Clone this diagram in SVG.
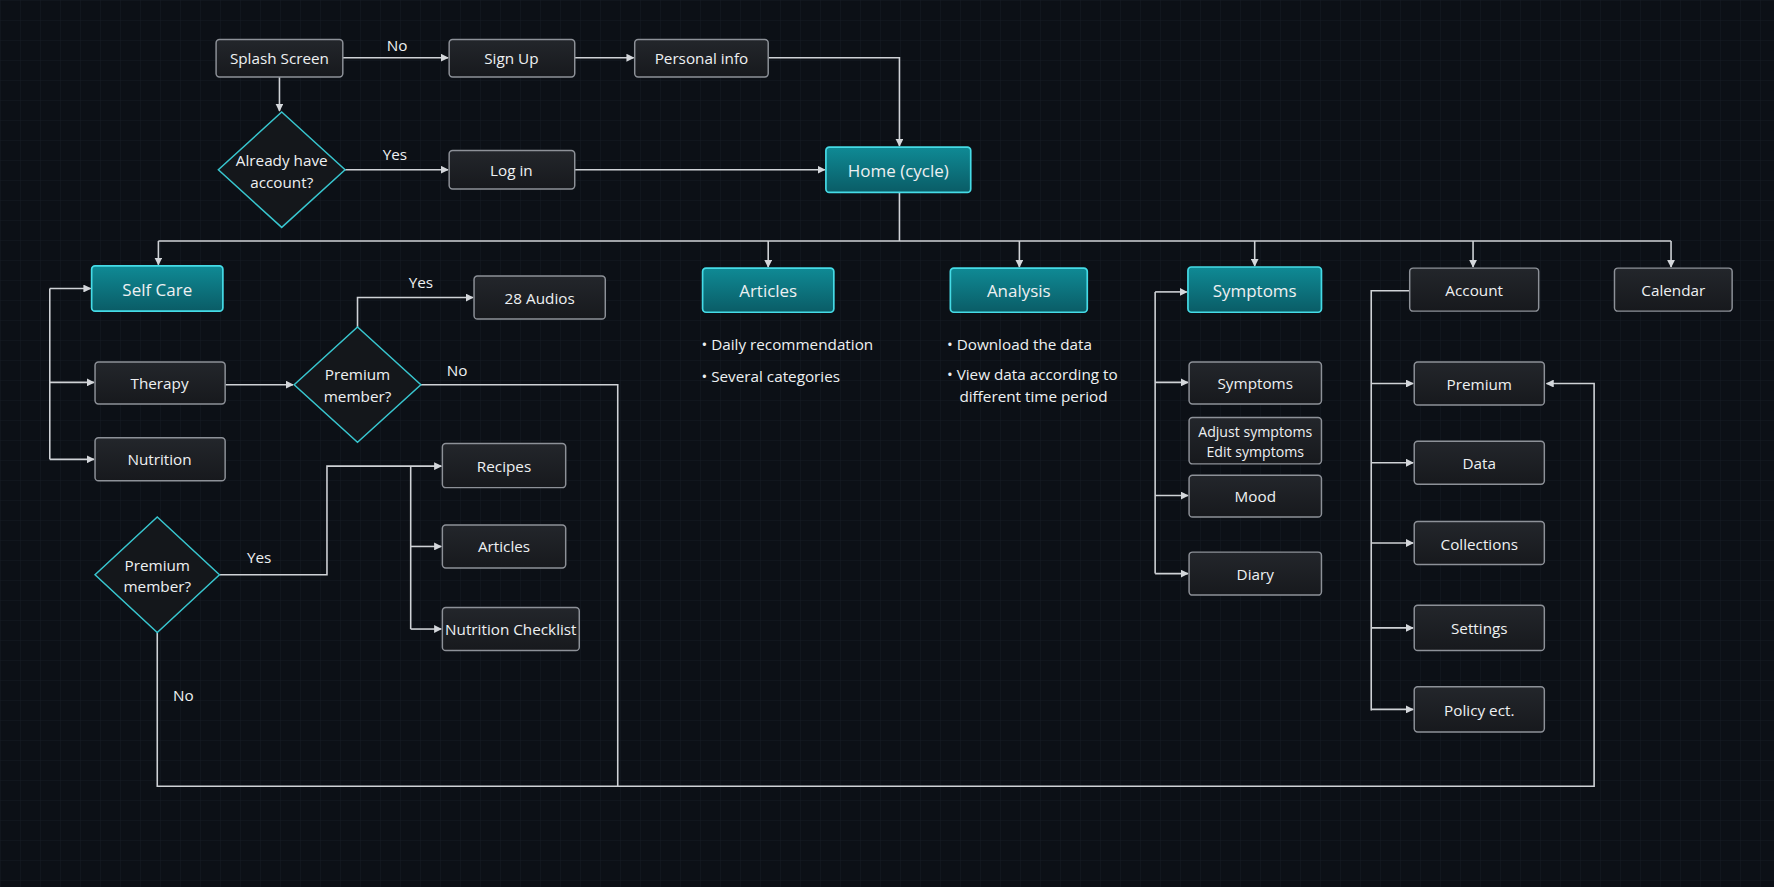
<svg xmlns="http://www.w3.org/2000/svg" width="1774" height="887" viewBox="0 0 1774 887">
<defs>
<pattern id="grid" width="20" height="20" patternUnits="userSpaceOnUse"><path d="M20 0H0V20" fill="none" stroke="#161c24" stroke-width="1"/></pattern>
<linearGradient id="tg" x1="0" y1="0" x2="0" y2="1"><stop offset="0" stop-color="#0f8a95"/><stop offset="1" stop-color="#0a5c66"/></linearGradient>
<linearGradient id="gg" x1="0" y1="0" x2="0" y2="1"><stop offset="0" stop-color="#23262b"/><stop offset="1" stop-color="#17191d"/></linearGradient>
<marker id="ar" viewBox="0 0 10 10" refX="9" refY="5" markerWidth="7" markerHeight="7" orient="auto-start-reverse" markerUnits="userSpaceOnUse"><path d="M0 0L10 5L0 10z" fill="#d4d7db"/></marker>
<style>
.n rect{fill:url(#gg);stroke:#8d9198;stroke-width:1.3}
.t rect{fill:url(#tg);stroke:#45dbe6;stroke-width:1.5}
.d polygon{fill:#14171b;stroke:#38c6cf;stroke-width:1.3}
text{font-family:"Open Sans","Liberation Sans",sans-serif;fill:#eef0f2;font-size:13.5px;text-anchor:middle;dominant-baseline:central}
.t text{font-size:15px}
.l{text-anchor:start}
#edges path{fill:none;stroke:#cfd2d6;stroke-width:1.4}
.a{marker-end:url(#ar)}
</style>
</defs>
<rect width="1774" height="887" fill="#0c1016"/>
<rect width="1774" height="887" fill="url(#grid)"/>
<g transform="scale(1.13138)">
<g id="edges">
<path class="a" d="M303 51H396"/>
<path class="a" d="M508 51H560"/>
<path class="a" d="M679 51H795V129"/>
<path class="a" d="M247 68V98"/>
<path class="a" d="M305 150H396"/>
<path class="a" d="M508 150H729"/>
<path d="M795 170V213M140 213H1477"/>
<path class="a" d="M140 213V234"/>
<path class="a" d="M679 213V236"/>
<path class="a" d="M901 213V236"/>
<path class="a" d="M1109 213V235"/>
<path class="a" d="M1302 213V236"/>
<path class="a" d="M1477 213V236"/>
<path d="M44 255V406"/>
<path class="a" d="M44 255H80"/>
<path class="a" d="M44 338H83"/>
<path class="a" d="M44 406H83"/>
<path class="a" d="M199 340H259"/>
<path class="a" d="M316 289V263H418"/>
<path d="M372 340H546V695"/>
<path class="a" d="M194 508H289V412H390"/>
<path d="M363 412V556"/>
<path class="a" d="M363 483H390"/>
<path class="a" d="M363 556H390"/>
<path class="a" d="M139 559V695H1409V339H1367"/>
<path d="M1021 258V507"/>
<path class="a" d="M1021 258H1049"/>
<path class="a" d="M1021 338H1050"/>
<path class="a" d="M1021 438H1050"/>
<path class="a" d="M1021 507H1050"/>
<path d="M1246 257H1212V628"/>
<path class="a" d="M1212 339H1249"/>
<path class="a" d="M1212 409H1249"/>
<path class="a" d="M1212 480H1249"/>
<path class="a" d="M1212 555H1249"/>
<path class="a" d="M1212 627H1249"/>
</g>
<g id="labels">
<text x="351" y="40">No</text>
<text x="349" y="136">Yes</text>
<text x="372" y="249">Yes</text>
<text x="404" y="327">No</text>
<text x="229" y="492">Yes</text>
<text x="162" y="614">No</text>
</g>
<g id="splash" class="n"><rect x="191" y="35" width="112" height="33" rx="3"/><text x="247" y="51.5">Splash Screen</text></g>
<g id="signup" class="n"><rect x="397" y="35" width="111" height="33" rx="3"/><text x="452" y="51.5">Sign Up</text></g>
<g id="personal" class="n"><rect x="561" y="35" width="118" height="33" rx="3"/><text x="620" y="51.5">Personal info</text></g>
<g id="already" class="d"><polygon points="249,99 305,150 249,201 193,150"/><text x="249" y="141">Already have</text><text x="249" y="161">account?</text></g>
<g id="login" class="n"><rect x="397" y="133" width="111" height="34" rx="3"/><text x="452" y="150.5">Log in</text></g>
<g id="home" class="t"><rect x="730" y="130" width="128" height="40" rx="3"/><text x="794" y="150.5">Home (cycle)</text></g>
<g id="selfcare" class="t"><rect x="81" y="235" width="116" height="40" rx="3"/><text x="139" y="255.5">Self Care</text></g>
<g id="therapy" class="n"><rect x="84" y="320" width="115" height="37" rx="3"/><text x="141" y="338.5">Therapy</text></g>
<g id="nutrition" class="n"><rect x="84" y="387" width="115" height="38" rx="3"/><text x="141" y="406">Nutrition</text></g>
<g id="premium1" class="d"><polygon points="316,289 372,340 316,391 260,340"/><text x="316" y="331">Premium</text><text x="316" y="350">member?</text></g>
<g id="audios" class="n"><rect x="419" y="244" width="116" height="38" rx="3"/><text x="477" y="263">28 Audios</text></g>
<g id="premium2" class="d"><polygon points="139,457 194,508 139,559 84,508"/><text x="139" y="499">Premium</text><text x="139" y="518">member?</text></g>
<g id="recipes" class="n"><rect x="391" y="392" width="109" height="39" rx="3"/><text x="445.5" y="411.5">Recipes</text></g>
<g id="articles2" class="n"><rect x="391" y="464" width="109" height="38" rx="3"/><text x="445.5" y="483">Articles</text></g>
<g id="checklist" class="n"><rect x="391" y="537" width="121" height="38" rx="3"/><text x="451.5" y="556">Nutrition Checklist</text></g>
<g id="articles" class="t"><rect x="621" y="237" width="116" height="39" rx="3"/><text x="679" y="256.5">Articles</text></g>
<g id="articles-notes"><text class="l" x="620" y="304">•  Daily recommendation</text><text class="l" x="620" y="332">•  Several categories</text></g>
<g id="analysis" class="t"><rect x="840" y="237" width="121" height="39" rx="3"/><text x="900.5" y="256.5">Analysis</text></g>
<g id="analysis-notes"><text class="l" x="837" y="304">•  Download the data</text><text class="l" x="837" y="331">•  View data according to</text><text class="l" x="848" y="350">different time period</text></g>
<g id="symptoms" class="t"><rect x="1050" y="236" width="118" height="40" rx="3"/><text x="1109" y="256.5">Symptoms</text></g>
<g id="symptoms2" class="n"><rect x="1051" y="320" width="117" height="37" rx="3"/><text x="1109.5" y="338.5">Symptoms</text></g>
<g id="adjust" class="n"><rect x="1051" y="369" width="117" height="41" rx="3"/><text x="1109.5" y="381" style="font-size:12.5px">Adjust symptoms</text><text x="1109.5" y="399" style="font-size:12.5px">Edit symptoms</text></g>
<g id="mood" class="n"><rect x="1051" y="420" width="117" height="37" rx="3"/><text x="1109.5" y="438.5">Mood</text></g>
<g id="diary" class="n"><rect x="1051" y="488" width="117" height="38" rx="3"/><text x="1109.5" y="507">Diary</text></g>
<g id="account" class="n"><rect x="1246" y="237" width="114" height="38" rx="3"/><text x="1303" y="256.5">Account</text></g>
<g id="calendar" class="n"><rect x="1427" y="237" width="104" height="38" rx="3"/><text x="1479" y="256.5">Calendar</text></g>
<g id="premium" class="n"><rect x="1250" y="320" width="115" height="38" rx="3"/><text x="1307.5" y="339.5">Premium</text></g>
<g id="data" class="n"><rect x="1250" y="390" width="115" height="38" rx="3"/><text x="1307.5" y="409.5">Data</text></g>
<g id="collections" class="n"><rect x="1250" y="461" width="115" height="38" rx="3"/><text x="1307.5" y="480.5">Collections</text></g>
<g id="settings" class="n"><rect x="1250" y="535" width="115" height="40" rx="3"/><text x="1307.5" y="555.5">Settings</text></g>
<g id="policy" class="n"><rect x="1250" y="607" width="115" height="40" rx="3"/><text x="1307.5" y="627.5">Policy ect.</text></g>
</g>
</svg>
